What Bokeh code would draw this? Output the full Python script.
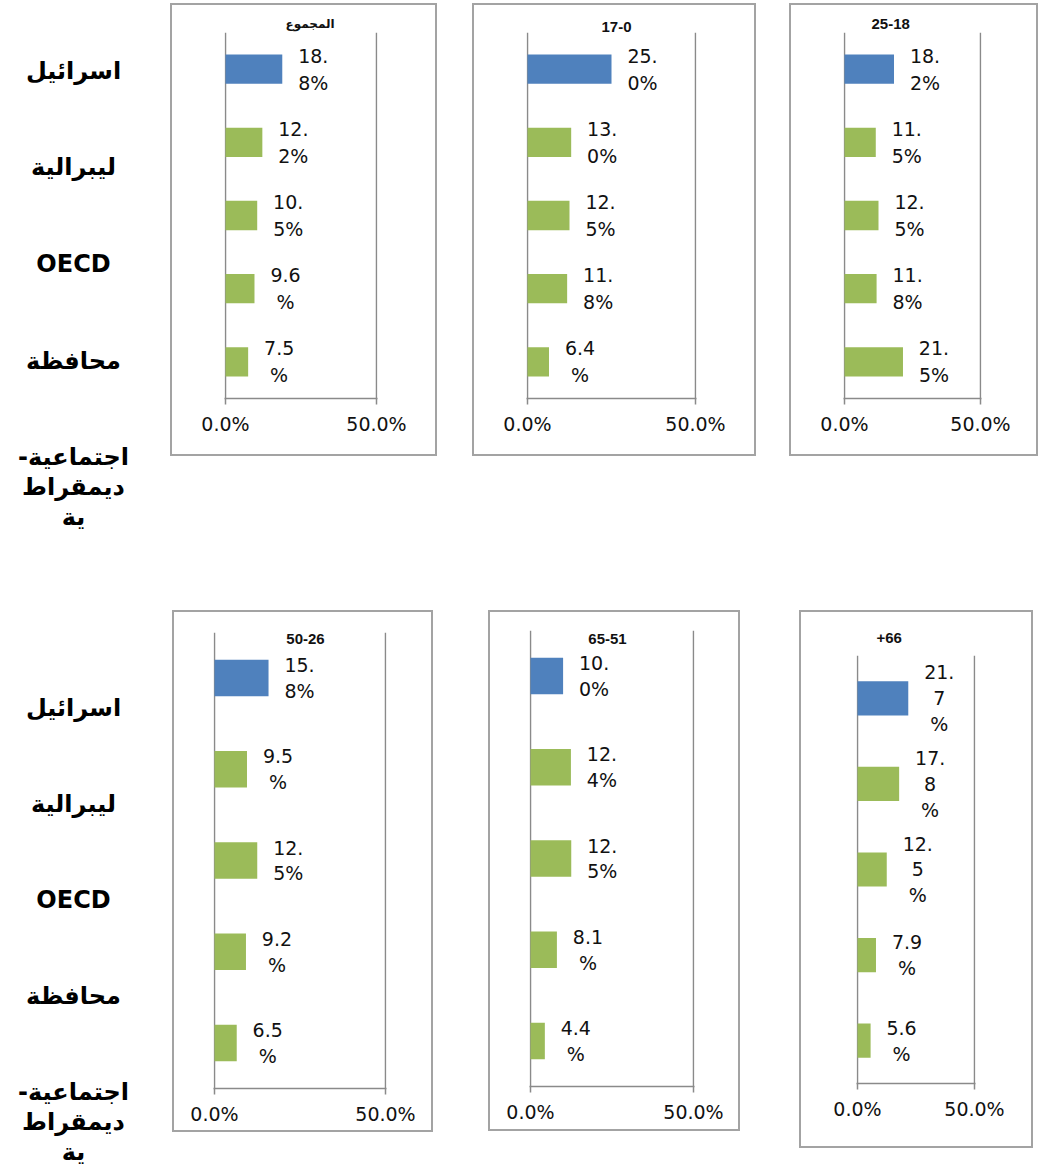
import numpy as np
from bokeh.plotting import figure
from bokeh.models import (Range1d, FactorRange, FixedTicker, NumeralTickFormatter, Label,
                          Spacer, Title)
from bokeh.layouts import row, column
from bokeh.embed import file_html
from bokeh.resources import INLINE
from bokeh.core.properties import value

# ---------------- data ----------------
categories = ["اسرائيل", "ليبرالية", "OECD", "محافظة", "اجتماعية-ديمقراطية"]
category_labels = ["اسرائيل", "ليبرالية", "OECD", "محافظة", "-اجتماعية\nديمقراط\nية"]
panel_titles = ["المجموع", "17-0", "25-18", "50-26", "65-51", "+66"]
total = [18.8, 12.2, 10.5, 9.6, 7.5]
age_0_17 = [25.0, 13.0, 12.5, 11.8, 6.4]
age_18_25 = [18.2, 11.5, 12.5, 11.8, 21.5]
age_26_50 = [15.8, 9.5, 12.5, 9.2, 6.5]
age_51_65 = [10.0, 12.4, 12.5, 8.1, 4.4]
age_66_plus = [21.7, 17.8, 12.5, 7.9, 5.6]
x_ticks = [0.0, 0.5]

# ---------------- styles ----------------
BLUE = "#4f81bd"
GREEN = "#9bbb59"
AXIS = "#8a8a8a"
BOX = "#a3a3a3"
NUM_FONT = "DejaVu Sans"
LBL_FONT = "DejaVu Sans"
TTL_FONT = "Liberation Sans"


def fmt(v, narrow):
    s = f"{v:.1f}"
    ip, dp = s.split(".")
    if len(ip) == 1:
        return s + "\n%"
    if narrow:
        return ip + ".\n" + dp + "\n%"
    return ip + ".\n" + dp + "%"


# layout specs
specs = [
    dict(w=267, h=453, bl=54, br=60, bt=29, bb=58, narrow=False, lh=1.22,
         title=dict(mode="above", offset=61, standoff=4, font=LBL_FONT, size="12px")),
    dict(w=284, h=453, bl=54, br=60, bt=29, bb=58, narrow=False, lh=1.22,
         title=dict(mode="above", offset=75, standoff=1, font=TTL_FONT, size="15px")),
    dict(w=249, h=453, bl=54, br=57, bt=29, bb=58, narrow=False, lh=1.22,
         title=dict(mode="above", offset=28, standoff=7, font=TTL_FONT, size="15px")),
    dict(w=261, h=522, bl=41, br=47, bt=22, bb=44, narrow=False, lh=1.18,
         title=dict(mode="label", x=92, y=450, font=TTL_FONT, size="15px")),
    dict(w=252, h=521, bl=41, br=46, bt=20, bb=45, narrow=False, lh=1.18,
         title=dict(mode="label", x=78, y=448, font=TTL_FONT, size="15px")),
    dict(w=234, h=538, bl=57, br=58, bt=45, bb=65, narrow=True, lh=1.18,
         title=dict(mode="above", offset=20, standoff=25, font=TTL_FONT, size="15px")),
]


def make_panel(title, vals, s):
    fw = s["w"] - s["bl"] - s["br"]
    pad = 0.5 * 1.0 / (fw - 2)
    p = figure(width=s["w"], height=s["h"], x_range=Range1d(-pad, 0.5 + pad),
               y_range=FactorRange(factors=categories[::-1]),
               y_axis_location=None, toolbar_location=None, output_backend="svg",
               min_border_left=s["bl"], min_border_right=s["br"],
               min_border_top=s["bt"], min_border_bottom=s["bb"],
               styles={"outline": f"2px solid {BOX}", "outline-offset": "-2px"})
    p.outline_line_color = None
    p.background_fill_color = None
    p.border_fill_color = None
    p.ygrid.grid_line_color = None
    p.xgrid.ticker = FixedTicker(ticks=x_ticks)
    p.xgrid.grid_line_color = AXIS
    p.xgrid.grid_line_width = 1.5

    ax = p.xaxis[0]
    ax.ticker = FixedTicker(ticks=x_ticks)
    ax.formatter = NumeralTickFormatter(format="0.0%")
    ax.axis_line_color = AXIS
    ax.axis_line_width = 1.5
    ax.major_tick_line_color = AXIS
    ax.major_tick_line_width = 1.5
    ax.major_tick_out = 6
    ax.major_tick_in = 0
    ax.minor_tick_line_color = None
    ax.major_label_standoff = 8
    ax.major_label_text_font = NUM_FONT
    ax.major_label_text_font_size = "19px"
    ax.major_label_text_color = "#111111"

    frac = [v / 100 for v in vals]
    colors = [BLUE] + [GREEN] * (len(vals) - 1)
    p.hbar(y=categories, left=0, right=frac, height=0.4,
           fill_color=colors, line_color=None)
    p.text(x=frac, y=categories, text=[fmt(v, s["narrow"]) for v in vals],
           x_offset=31, text_align="center", text_baseline="middle",
           text_font=value(NUM_FONT), text_font_size="19px",
           text_line_height=s["lh"], text_color="#111111")

    t = s["title"]
    if t["mode"] == "label":
        p.add_layout(Label(x=t["x"], y=t["y"], x_units="screen", y_units="screen",
                           text=title, text_align="center", text_baseline="middle",
                           text_font=t["font"], text_font_style="bold",
                           text_font_size=t["size"], text_color="#111111"))
    else:
        p.add_layout(Title(text=title, align="left", offset=t["offset"],
                           standoff=t["standoff"], vertical_align="bottom",
                           text_font=t["font"], text_font_style="bold",
                           text_font_size=t["size"], text_color="#111111"), "above")
    return p


def make_labels(h, top, bottom):
    p = figure(width=146, height=h, x_range=Range1d(0, 1), y_range=Range1d(bottom, top),
               x_axis_location=None, y_axis_location=None,
               toolbar_location=None, output_backend="svg",
               min_border_left=0, min_border_right=0, min_border_top=0, min_border_bottom=0)
    p.outline_line_color = None
    p.background_fill_color = None
    p.border_fill_color = None
    p.xgrid.grid_line_color = None
    p.ygrid.grid_line_color = None
    idx = list(range(len(categories)))
    lh = 1.074
    line_px = 24 * 1.164 * lh
    offs = [lbl.count("\n") * line_px / 2 for lbl in category_labels]
    p.text(x=[0.5] * len(idx), y=idx, text=category_labels, y_offset=offs,
           text_align="center", text_baseline="middle",
           text_font=value(LBL_FONT), text_font_style="bold", text_font_size="24px",
           text_line_height=lh, text_color="#000000")
    return p


series = [total, age_0_17, age_18_25, age_26_50, age_51_65, age_66_plus]
panels = [make_panel(t, v, s) for t, v, s in zip(panel_titles, series, specs)]

L1 = make_labels(545, -0.724, 4.912)
L2 = make_labels(567, -1.126, 4.786)

row1 = row(Spacer(width=24), panels[0], Spacer(width=35), panels[1],
           Spacer(width=33), panels[2])
row2 = row(Spacer(width=26), column(panels[3], Spacer(height=16)),
           Spacer(width=55), column(panels[4], Spacer(height=17)),
           Spacer(width=59), panels[5])
panel_col = column(Spacer(height=3), row1, Spacer(height=154), row2)
label_col = column(L1, Spacer(height=55), L2)
root = row(label_col, panel_col)

open("out.html", "w").write(file_html(root, INLINE))
